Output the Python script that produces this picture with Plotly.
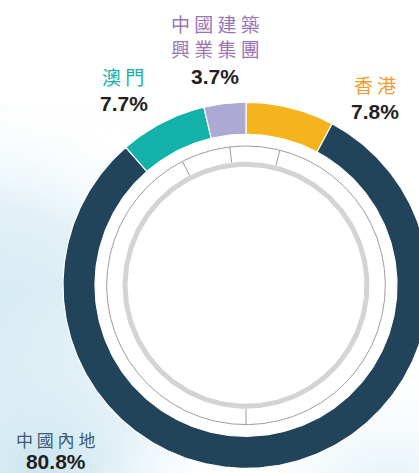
import math, base64
import plotly.graph_objects as go

# ---- data ----
categories = ["香港", "中國內地", "澳門", "中國建築興業集團"]
shares = [7.8, 80.8, 7.7, 3.7]
value_labels = ["7.8%", "80.8%", "7.7%", "3.7%"]
seg_colors = ["#F5B41D", "#22445B", "#13B1A7", "#ACA9D2"]
label_colors = ["#F39B30", "#3B5A74", "#14AFA5", "#9B74B6"]

# ---- geometry (unit circle, 183 px per unit) ----
W, H = 419, 473
CX, CY, S = 246.0, 285.3, 183.0
R_OUT, R_IN = 1.0, 151 / S
R_THIN, R_THICK = 139.3 / S, 121 / S

x_range = [(0 - CX) / S, (W - CX) / S]
y_range = [(CY - H) / S, CY / S]

def pol(r, deg_cw):
    a = math.radians(90 - deg_cw)
    return r * math.cos(a), r * math.sin(a)

fig = go.Figure()

# white disc behind the ring
xs, ys = zip(*[pol(R_OUT, t) for t in range(0, 361, 2)])
fig.add_trace(go.Scatter(x=xs, y=ys, fill="toself", fillcolor="white",
                         line=dict(width=0), mode="lines", hoverinfo="skip", showlegend=False))

total = sum(shares)
cum = 0.0
mids = []
for cat, v, col in zip(categories, shares, seg_colors):
    a0 = cum / total * 360
    a1 = (cum + v) / total * 360
    mids.append((a0 + a1) / 2)
    n = max(8, int((a1 - a0) / 1.0))
    outer = [pol(R_OUT, a0 + (a1 - a0) * i / n) for i in range(n + 1)]
    inner = [pol(R_IN, a1 - (a1 - a0) * i / n) for i in range(n + 1)]
    pts = outer + inner + [outer[0]]
    fig.add_trace(go.Scatter(x=[p[0] for p in pts], y=[p[1] for p in pts], fill="toself",
                             fillcolor=col, line=dict(color="white", width=1.2),
                             mode="lines", name=cat, hoverinfo="name", showlegend=False))
    cum += v

# inner decorative circles
for r, c, w in [(R_THIN, "#9c9c9c", 1), (R_THICK, "#d4d4d4", 5)]:
    xs, ys = zip(*[pol(r, t / 2) for t in range(0, 721)])
    fig.add_trace(go.Scatter(x=xs, y=ys, mode="lines", line=dict(color=c, width=w),
                             hoverinfo="skip", showlegend=False))

# ticks: midpoints of the small segments, bottom for the mainland
tick_angles = [mids[0], 180.0, mids[2], mids[3]]
for t in tick_angles:
    p0, p1 = pol(R_THICK + 2.5 / S, t), pol(R_THIN, t)
    fig.add_trace(go.Scatter(x=[p0[0], p1[0]], y=[p0[1], p1[1]], mode="lines",
                             line=dict(color="#9c9c9c", width=1), hoverinfo="skip", showlegend=False))

# ---- labels ----
def px(x, y):
    return x / W, 1 - y / H

cjk = "Noto Sans CJK TC"
num_font = dict(family="Liberation Sans, Arial", size=21, color="#231F20")
name = categories[3]
mainland_text = (" ".join(categories[1]) +
                 "<br><span style='font-family:Liberation Sans, Arial;font-size:21px;color:#231F20'><b>"
                 + value_labels[1] + "</b></span>")
ann = [
    dict(text="香 港", pos=(375, 84), font=dict(family=cjk, size=19, color=label_colors[0])),
    dict(text="<b>" + value_labels[0] + "</b>", pos=(375, 111), font=num_font),
    dict(text=mainland_text, pos=(55, 450), font=dict(family=cjk, size=17, color=label_colors[1])),
    dict(text="澳 門", pos=(123, 76), font=dict(family=cjk, size=19, color=label_colors[2])),
    dict(text="<b>" + value_labels[2] + "</b>", pos=(124, 103), font=num_font),
    dict(text=" ".join(name[:4]) + "<br>" + " ".join(name[4:]), pos=(215, 36),
         font=dict(family=cjk, size=19, color=label_colors[3])),
    dict(text="<b>" + value_labels[3] + "</b>", pos=(215, 76), font=num_font),
]

annotations = []
for a in ann:
    x, y = px(*a["pos"])
    annotations.append(dict(text=a["text"], x=x, y=y, xref="paper", yref="paper",
                            xanchor="center", yanchor="middle", showarrow=False, font=a["font"]))

# ---- watercolor-ish background ----
svg = f"""<svg xmlns='http://www.w3.org/2000/svg' width='{W}' height='{H}' viewBox='0 0 {W} {H}'>
<defs>
<radialGradient id='a' cx='-20' cy='360' r='260' gradientUnits='userSpaceOnUse'>
<stop offset='0' stop-color='#cfe7f1'/><stop offset='0.6' stop-color='#e2f1f7'/><stop offset='1' stop-color='#ffffff' stop-opacity='0'/></radialGradient>
<radialGradient id='b' cx='390' cy='520' r='170' gradientUnits='userSpaceOnUse'>
<stop offset='0' stop-color='#d3eaf3'/><stop offset='1' stop-color='#ffffff' stop-opacity='0'/></radialGradient>
<radialGradient id='c' cx='40' cy='480' r='190' gradientUnits='userSpaceOnUse'>
<stop offset='0' stop-color='#c6e3ef'/><stop offset='1' stop-color='#ffffff' stop-opacity='0'/></radialGradient>
<filter id='t'><feTurbulence type='fractalNoise' baseFrequency='0.012 0.05' numOctaves='3' seed='4'/>
<feColorMatrix values='0 0 0 0 0.75  0 0 0 0 0.86  0 0 0 0 0.92  0 0 0 0.55 -0.1'/></filter>
<linearGradient id='m' x1='0' y1='0' x2='1' y2='0'><stop offset='0' stop-color='white' stop-opacity='1'/><stop offset='0.5' stop-color='white' stop-opacity='0'/></linearGradient>
<mask id='mk'><rect width='{W}' height='{H}' fill='url(#m)'/></mask>
</defs>
<rect width='{W}' height='{H}' fill='#ffffff'/>
<rect width='{W}' height='{H}' fill='url(#a)'/>
<rect width='{W}' height='{H}' fill='url(#c)'/>
<rect width='{W}' height='{H}' fill='url(#b)'/>
<rect y='150' width='{W}' height='{H}' filter='url(#t)' mask='url(#mk)' opacity='0.4'/>
</svg>"""
src = "data:image/svg+xml;base64," + base64.b64encode(svg.encode()).decode()

fig.update_layout(
    width=W, height=H, margin=dict(l=0, r=0, t=0, b=0),
    paper_bgcolor="white", plot_bgcolor="rgba(0,0,0,0)",
    xaxis=dict(range=x_range, visible=False, fixedrange=True),
    yaxis=dict(range=y_range, visible=False, fixedrange=True),
    annotations=annotations,
    images=[dict(source=src, xref="paper", yref="paper", x=0, y=1, sizex=1, sizey=1,
                 sizing="stretch", layer="below", xanchor="left", yanchor="top")],
    showlegend=False,
)

fig.write_html("out.html", config={"displayModeBar": False},
               post_script="document.body.style.margin='0';document.body.style.overflow='hidden';")
